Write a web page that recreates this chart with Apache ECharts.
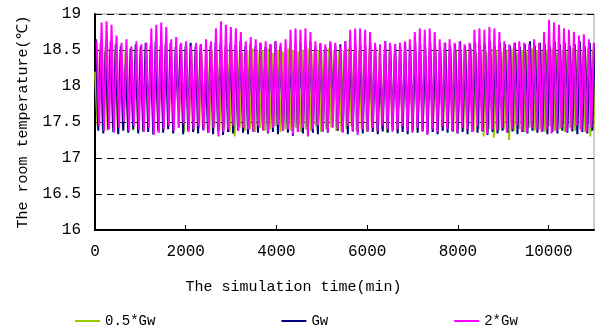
<!DOCTYPE html>
<html>
<head>
<meta charset="utf-8">
<script src="https://cdn.jsdelivr.net/npm/echarts@6/dist/echarts.min.js"></script>
<style>
  html, body { margin: 0; padding: 0; background: #fff; }
  #chart { width: 611px; height: 327px; }
</style>
</head>
<body>
<div id="chart"></div>
<script>
// room temperature (℃) (peak, trough, peak, ...)
const seriesNames = ['0.5*Gw', 'Gw', '2*Gw'];
const startMin = [0, 18, 36];
const stepMin = [56, 55, 54.8];

const temp05Gw = [
  18.2,17.45, 18.5,17.4, 18.48,17.38, 18.52,17.42, 18.5,17.36,
  18.46,17.4, 18.5,17.44, 18.52,17.38, 18.48,17.4, 18.5,17.36,
  18.52,17.42, 18.48,17.38, 18.5,17.35, 18.46,17.4, 18.5,17.44,
  18.52,17.38, 18.48,17.42, 18.5,17.36, 18.52,17.4, 18.48,17.38,
  18.5,17.42, 18.46,17.4, 18.52,17.36, 18.5,17.44, 18.48,17.38,
  18.5,17.4, 18.52,17.36, 18.48,17.3, 18.5,17.42, 18.46,17.38,
  18.5,17.4, 18.52,17.36, 18.48,17.42, 18.5,17.38, 18.52,17.4,
  18.46,17.44, 18.5,17.36, 18.48,17.4, 18.52,17.38, 18.5,17.42,
  18.48,17.36, 18.5,17.4, 18.52,17.38, 18.46,17.44, 18.5,17.36,
  18.48,17.4, 18.52,17.42, 18.5,17.38, 18.48,17.36, 18.5,17.4,
  18.52,17.44, 18.46,17.38, 18.5,17.4, 18.48,17.36, 18.52,17.42,
  18.5,17.38, 18.48,17.4, 18.5,17.36, 18.52,17.44, 18.46,17.38,
  18.5,17.4, 18.48,17.42, 18.52,17.36, 18.5,17.38, 18.48,17.4,
  18.5,17.44, 18.52,17.36, 18.46,17.4, 18.5,17.38, 18.48,17.42,
  18.52,17.36, 18.5,17.4, 18.48,17.38, 18.5,17.44, 18.52,17.36,
  18.46,17.4, 18.5,17.3, 18.48,17.4, 18.52,17.28, 18.5,17.38,
  18.48,17.4, 18.5,17.25, 18.52,17.38, 18.46,17.4, 18.5,17.36,
  18.48,17.42, 18.52,17.38, 18.5,17.4, 18.48,17.36, 18.5,17.44,
  18.52,17.38, 18.46,17.4, 18.5,17.36, 18.48,17.42, 18.52,17.38,
  18.5,17.4, 18.48,17.36, 18.52,17.3, 18.5,17.38, 18.48,17.4,
  18.5
];

const tempGw = [
  18.65,17.38, 18.6,17.34, 18.55,17.4, 18.62,17.36, 18.58,17.33,
  18.55,17.38, 18.3,17.35, 18.52,17.4, 18.58,17.34, 18.55,17.37,
  18.6,17.36, 18.56,17.33, 18.62,17.38, 18.55,17.35, 18.58,17.4,
  18.6,17.34, 18.54,17.7, 18.58,17.33, 18.56,17.38, 18.6,17.36,
  18.55,17.34, 18.58,17.39, 18.25,17.35, 18.56,17.33, 18.6,17.37,
  18.58,17.32, 18.55,17.36, 18.6,17.34, 18.57,17.38, 18.62,17.35,
  18.56,17.33, 18.58,17.37, 18.55,17.35, 18.6,17.39, 18.54,17.34,
  18.58,17.36, 18.62,17.33, 18.56,17.38, 18.35,17.35, 18.55,17.31,
  18.58,17.36, 18.6,17.34, 18.56,17.38, 18.62,17.35, 18.55,17.33,
  18.58,17.37, 18.54,17.35, 18.6,17.65, 18.56,17.38, 18.58,17.36,
  18.62,17.33, 18.55,17.37, 18.6,17.35, 18.58,17.34, 18.56,17.38,
  18.6,17.36, 18.54,17.33, 18.3,17.37, 18.62,17.35, 18.56,17.39,
  18.58,17.34, 18.55,17.36, 18.6,17.33, 18.56,17.38, 18.62,17.35,
  18.58,17.37, 18.55,17.34, 18.6,17.36, 18.57,17.33, 18.54,17.38,
  18.6,17.35, 18.56,17.37, 18.58,17.34, 18.62,17.36, 18.55,17.33,
  18.58,17.38, 18.6,17.35, 18.56,17.37, 18.58,17.32, 18.62,17.36,
  18.55,17.34, 18.6,17.38, 18.58,17.35, 18.56,17.37, 18.6,17.33,
  18.54,17.36, 18.58,17.34, 18.62,17.38, 18.56,17.35, 18.6,17.37,
  18.58,17.33, 18.55,17.36, 18.62,17.34, 18.58,17.38, 18.6,17.35,
  18.56,17.37, 18.58,17.33, 18.62,17.36, 18.55,17.34, 18.6,17.38,
  18.58
];

const temp2Gw = [
  18.62,17.45, 18.88,17.38, 18.9,17.4, 18.85,17.35, 18.7,17.42,
  18.6,17.5, 18.65,17.38, 18.55,17.45, 18.62,17.4, 18.58,17.36,
  18.6,17.42, 18.8,17.32, 18.85,17.35, 18.88,17.4, 18.82,17.45,
  18.65,17.38, 18.68,17.42, 18.6,17.48, 18.62,17.36, 18.55,17.4,
  18.6,17.44, 18.58,17.38, 18.65,17.35, 18.62,17.42, 18.8,17.3,
  18.9,17.36, 18.85,17.4, 18.82,17.45, 18.8,17.38, 18.75,17.42,
  18.62,17.4, 18.68,17.36, 18.65,17.44, 18.6,17.38, 18.62,17.35,
  18.58,17.42, 18.62,17.46, 18.6,17.38, 18.65,17.4, 18.78,17.33,
  18.8,17.36, 18.78,17.42, 18.8,17.3, 18.75,17.4, 18.62,17.45,
  18.6,17.38, 18.58,17.36, 18.62,17.42, 18.6,17.4, 18.55,17.35,
  18.62,17.44, 18.78,17.38, 18.8,17.32, 18.8,17.4, 18.78,17.36,
  18.75,17.42, 18.6,17.38, 18.58,17.45, 18.62,17.4, 18.6,17.36,
  18.58,17.4, 18.6,17.44, 18.62,17.38, 18.65,17.35, 18.75,17.42,
  18.8,17.38, 18.78,17.32, 18.8,17.4, 18.75,17.36, 18.65,17.44,
  18.6,17.4, 18.65,17.38, 18.6,17.35, 18.62,17.42, 18.58,17.4,
  18.6,17.36, 18.78,17.44, 18.8,17.38, 18.78,17.33, 18.82,17.4,
  18.8,17.38, 18.75,17.42, 18.62,17.36, 18.58,17.4, 18.6,17.45,
  18.62,17.38, 18.6,17.35, 18.58,17.42, 18.65,17.4, 18.6,17.36,
  18.75,17.4, 18.92,17.34, 18.88,17.38, 18.85,17.42, 18.8,17.36,
  18.78,17.4, 18.75,17.45, 18.7,17.38, 18.72,17.36, 18.65,17.42,
  18.6
];

const yTicks = [16, 16.5, 17, 17.5, 18, 18.5, 19];
const xTicks = [0, 2000, 4000, 6000, 8000, 10000];

const colors = ['#99cc00', '#000080', '#ff00ff'];
const monoFont = '"Liberation Mono", "DejaVu Sans Mono", monospace';

const toPairs = (vals, start, step) => vals.map((v, i) => [start + i * step, v]);
const allTemps = [temp05Gw, tempGw, temp2Gw];

const chart = echarts.init(document.getElementById('chart'), null, { renderer: 'canvas' });

const option = {
  animation: false,
  backgroundColor: '#fff',
  grid: {
    left: 95, right: 17, top: 14, bottom: 97,
    show: true, borderColor: '#999', borderWidth: 1
  },
  legend: {
    left: 70, top: 309,
    itemGap: 126, itemWidth: 25, itemHeight: 2,
    icon: 'rect',
    textStyle: { fontFamily: monoFont, fontSize: 14, color: '#000' },
    data: seriesNames
  },
  xAxis: {
    type: 'value',
    min: 0, max: 11000, interval: 2000,
    name: 'The simulation time(min)',
    nameLocation: 'middle',
    nameGap: 50,
    nameTextStyle: { fontFamily: monoFont, fontSize: 15, color: '#000', padding: [0, 102, 0, 0] },
    axisLine: { lineStyle: { color: '#000', width: 2 } },
    axisTick: { inside: true, length: 5, lineStyle: { color: '#000' } },
    axisLabel: {
      fontFamily: monoFont, fontSize: 16, color: '#000', margin: 14,
      showMaxLabel: false,
      formatter: v => (xTicks.includes(v) ? String(v) : '')
    },
    splitLine: { show: false }
  },
  yAxis: {
    type: 'value',
    min: 16, max: 19, interval: 0.5,
    name: 'The room temperature(℃)',
    nameLocation: 'middle',
    nameGap: 64,
    nameTextStyle: { fontFamily: monoFont, fontSize: 15, color: '#000' },
    axisLine: { show: true, lineStyle: { color: '#000', width: 2 } },
    axisTick: { show: false },
    axisLabel: {
      fontFamily: monoFont, fontSize: 16, color: '#000', margin: 14,
      formatter: v => (yTicks.includes(v) ? String(v) : '')
    },
    splitLine: { show: true, lineStyle: { color: '#000', type: [7, 5], width: 1 } }
  },
  series: seriesNames.map((name, i) => ({
    name: name,
    type: 'line',
    data: toPairs(allTemps[i], startMin[i], stepMin[i]),
    showSymbol: false,
    clip: true,
    color: colors[i],
    lineStyle: { width: 2, color: colors[i] },
    z: 2 + i
  }))
};

chart.setOption(option);
</script>
</body>
</html>
